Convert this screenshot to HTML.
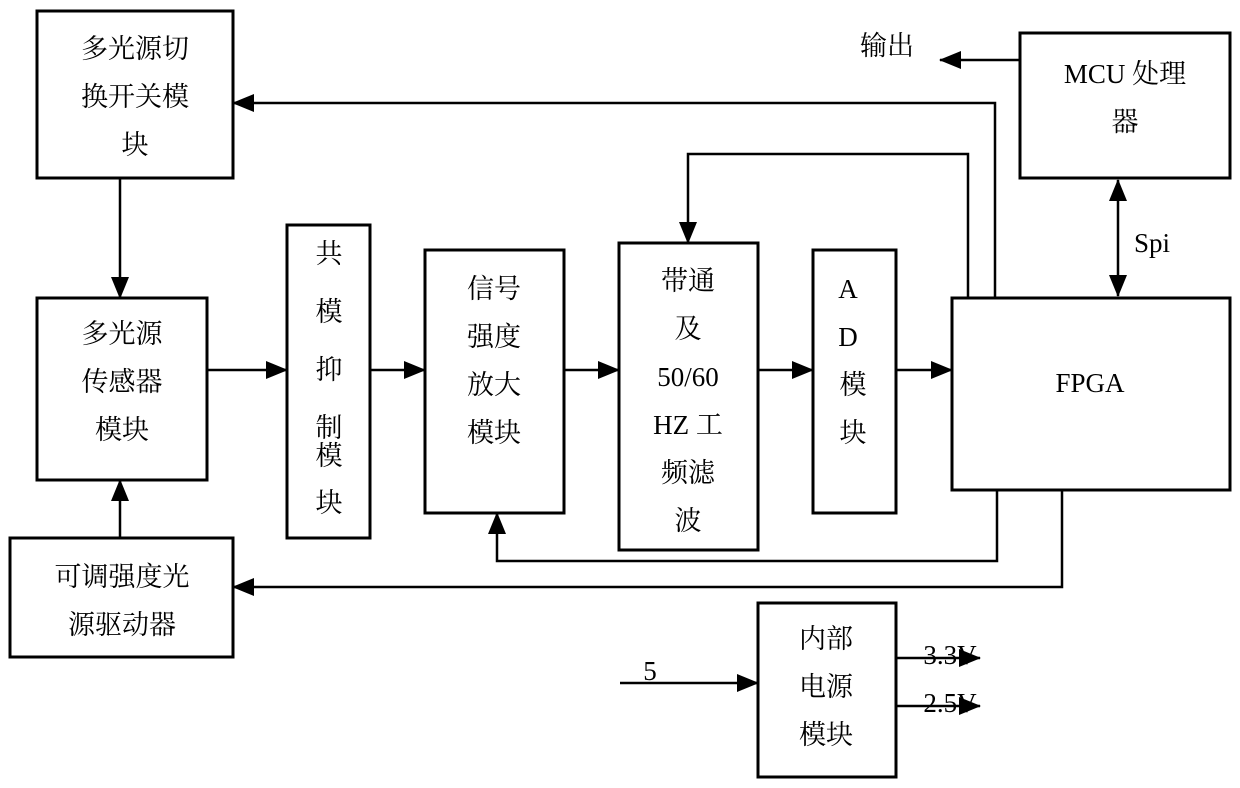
<!DOCTYPE html>
<html><head><meta charset="utf-8"><style>
html,body{margin:0;padding:0;background:#fff;}
svg{display:block;}
text{font-family:"Liberation Serif","Noto Serif CJK SC",serif;font-size:27px;fill:#000;text-anchor:middle;}
</style></head><body>
<svg width="1240" height="788" viewBox="0 0 1240 788" xmlns="http://www.w3.org/2000/svg">
<defs>
<marker id="ab" markerWidth="22" markerHeight="18" refX="21" refY="9" orient="auto" markerUnits="userSpaceOnUse" viewBox="0 0 22 18">
<path d="M0,0 L22,9 L0,18 z" fill="#000"/></marker>
<marker id="as" markerWidth="22" markerHeight="18" refX="1" refY="9" orient="auto" markerUnits="userSpaceOnUse" viewBox="0 0 22 18">
<path d="M22,0 L0,9 L22,18 z" fill="#000"/></marker>
</defs>
<g fill="none" stroke="#000" stroke-width="3">
<rect x="37" y="11" width="196" height="167"/>
<rect x="1020" y="33" width="210" height="145"/>
<rect x="37" y="298" width="170" height="182"/>
<rect x="287" y="225" width="83" height="313"/>
<rect x="425" y="250" width="139" height="263"/>
<rect x="619" y="243" width="139" height="307"/>
<rect x="813" y="250" width="83" height="263"/>
<rect x="952" y="298" width="278" height="192"/>
<rect x="10" y="538" width="223" height="119"/>
<rect x="758" y="603" width="138" height="174"/>
</g>
<g fill="none" stroke="#000" stroke-width="2.5">
<path d="M120 178 V298" marker-end="url(#ab)"/>
<path d="M120 538 V480" marker-end="url(#ab)"/>
<path d="M207 370 H287" marker-end="url(#ab)"/>
<path d="M370 370 H425" marker-end="url(#ab)"/>
<path d="M564 370 H619" marker-end="url(#ab)"/>
<path d="M758 370 H813" marker-end="url(#ab)"/>
<path d="M896 370 H952" marker-end="url(#ab)"/>
<path d="M995 298 V103 H233" marker-end="url(#ab)"/>
<path d="M968 298 V154 H688 V243" marker-end="url(#ab)"/>
<path d="M1118 180 V296" marker-end="url(#ab)" marker-start="url(#as)"/>
<path d="M1020 60 H940" marker-end="url(#ab)"/>
<path d="M997 490 V561 H497 V513" marker-end="url(#ab)"/>
<path d="M1062 490 V587 H233" marker-end="url(#ab)"/>
<path d="M620 683 H758" marker-end="url(#ab)"/>
<path d="M896 658 H980" marker-end="url(#ab)"/>
<path d="M896 706 H980" marker-end="url(#ab)"/>
</g>
<text x="135" y="58">多光源切</text>
<text x="135" y="106">换开关模</text>
<text x="135" y="154">块</text>
<text x="1125" y="83">MCU 处理</text>
<text x="1125" y="131">器</text>
<text x="887" y="55">输出</text>
<text x="1152" y="252">Spi</text>
<text x="122" y="343">多光源</text>
<text x="122" y="391">传感器</text>
<text x="122" y="439">模块</text>
<text x="329" y="263">共</text>
<text x="329" y="321">模</text>
<text x="329" y="379">抑</text>
<text x="329" y="437">制</text>
<text x="329" y="465">模</text>
<text x="329" y="512">块</text>
<text x="494" y="298">信号</text>
<text x="494" y="346">强度</text>
<text x="494" y="394">放大</text>
<text x="494" y="442">模块</text>
<text x="688" y="290">带通</text>
<text x="688" y="338">及</text>
<text x="688" y="386">50/60</text>
<text x="688" y="434">HZ 工</text>
<text x="688" y="482">频滤</text>
<text x="688" y="530">波</text>
<text x="848" y="298">A</text>
<text x="848" y="346">D</text>
<text x="853" y="394">模</text>
<text x="853" y="442">块</text>
<text x="1090" y="392">FPGA</text>
<text x="122" y="586">可调强度光</text>
<text x="122" y="634">源驱动器</text>
<text x="650" y="680">5</text>
<text x="826" y="648">内部</text>
<text x="826" y="696">电源</text>
<text x="826" y="744">模块</text>
<text x="950" y="664">3.3V</text>
<text x="950" y="712">2.5V</text>
</svg>
</body></html>
